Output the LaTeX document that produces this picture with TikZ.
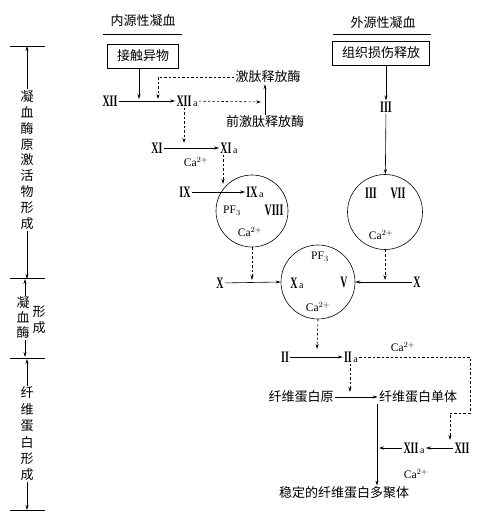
\documentclass[tikz,border=0pt]{standalone}
\usepackage{fontspec}
\usepackage{graphicx}
\setmainfont{Liberation Serif}
\newfontfamily\cjk{Noto Sans CJK SC}
\usetikzlibrary{arrows.meta}
\newcommand\rom[1]{\scalebox{0.62}[1]{#1}}
\newcommand\suba{\textmd{\fontsize{10}{10}\selectfont\,a}}
\begin{document}
\begin{tikzpicture}[x=1pt,y=-1pt,line width=0.6pt,
  cn/.style={font=\cjk\fontsize{13}{14}\selectfont, inner sep=1pt},
  boxed/.style={cn, draw, minimum height=24pt},
  rn/.style={font=\fontsize{16}{16}\selectfont\bfseries, inner sep=1pt},
  lt/.style={font=\fontsize{11.5}{11.5}\selectfont, inner sep=1pt},
  ring/.style={draw, circle, inner sep=0pt, minimum size=#1},
  arr/.style={-{Stealth[length=5pt,width=3pt]}},
  dashline/.style={arr, dash pattern=on 2.5pt off 2pt},
  stage/.style={align=center, inner sep=1pt, font=\cjk\fontsize{13}{#1}\selectfont}]
  \useasboundingbox (0,0) rectangle (491,521);
  % stages on the left
  \foreach \y in {46,278,358,510}
    \draw (10,\y) -- (45,\y);
  \coordinate (t1) at (27,46);
  \coordinate (t2) at (25,279);
  \coordinate (t3) at (25,357);
  \coordinate (t3b) at (27,359);
  \coordinate (t4) at (27,510);
  \node[stage=15.8pt] (s1) at (27,160) {凝\\血\\酶\\原\\激\\活\\物\\形\\成};
  \node[stage=15pt] (s2a) at (23,318) {凝\\血\\酶};
  \node[stage=16pt] (s2b) at (39,320) {形\\成};
  \node[stage=16.4pt] (s3) at (27,434) {纤\\维\\蛋\\白\\形\\成};
  \draw[arr] (s1.north) -- (t1);
  \draw[arr] (s1.south) -- (t2 -| t1);
  \draw[arr] (s2a.north -| t2) -- (t2);
  \draw[arr] (s2a.south -| t3) -- (t3);
  \draw[arr] (s3.north) -- (t3b);
  \draw[arr] (s3.south) -- (t4);
  % intrinsic pathway
  \node[cn] (intr) at (143,21) {内源性凝血};
  \draw (103,34) -- (182,34);
  \node[boxed, minimum width=71pt] (contact) at (143,56) {接触异物};
  \node[rn] (xii) at (110,101) {\rom{XII}};
  \node[rn] (xiia) at (187,101) {\rom{XII}\suba};
  \node[cn] (kal) at (268,77) {激肽释放酶};
  \node[cn] (prekal) at (265,122) {前激肽释放酶};
  \coordinate (cin) at (139,99);
  \coordinate (kin) at (158,99);
  \coordinate (kx) at (261,102);
  \draw[arr] (contact.south -| cin) -- (cin);
  \draw[dashline] (kal.west) -| (kin);
  \draw[arr] (xii) -- (xiia);
  \draw[dashline] (xiia) -- (kx);
  \draw[arr] (prekal.north) -- (prekal.north |- kal.south);
  \node[rn] (xi) at (157,148) {\rom{XI}};
  \node[rn] (xia) at (229,148) {\rom{XI}\suba};
  \coordinate (xiib) at (184,143);
  \draw[dashline] (xiia.south -| xiib) -- (xiib);
  \draw[arr] (xi) -- (xia);
  \node[lt] (ca1) at (196,162) {Ca$^{2+}$};
  \node[ring=72pt] (c1) at (252,211) {};
  \node[rn] (ix) at (185,192) {\rom{IX}};
  \node[rn] (ixa) at (255,192) {\rom{IX}\suba};
  \coordinate (xiab) at (223,184);
  \draw[dashline] (xia.south -| xiab) -- (xiab);
  \draw[arr] (ix) -- (ixa);
  \node[lt] (pf1) at (232,211) {PF$_3$};
  \node[rn] (viii) at (274,210) {\rom{VIII}};
  \node[lt] (ca2) at (250,232) {Ca$^{2+}$};
  % prothrombin activator
  \node[ring=74pt] (c2) at (318,282) {};
  \node[lt] (pf2) at (320,257) {PF$_3$};
  \node[rn] (xa) at (297,283) {\rom{X}\suba};
  \node[rn] (v) at (344,282) {\rom{V}};
  \node[lt] (ca3) at (318,307) {Ca$^{2+}$};
  \node[rn] (x1) at (220,283) {\rom{X}};
  \coordinate (c1b) at (252,280);
  \draw[dashline] (c1.south) -- (c1b);
  \draw[arr] (x1) -- (c2.west);
  % extrinsic pathway
  \node[cn] (extr) at (383,23) {外源性凝血};
  \draw (333,34) -- (431,34);
  \node[boxed, minimum width=97pt] (tissue) at (381,53) {组织损伤释放};
  \node[rn] (iii) at (386,107) {\rom{III}};
  \node[ring=75pt] (c3) at (385,212) {};
  \draw[arr] (tissue.south -| iii) -- (iii);
  \draw[arr] (iii) -- (c3);
  \node[rn] (iii2) at (371,193) {\rom{III}};
  \node[rn] (vii) at (398,193) {\rom{VII}};
  \node[lt] (ca4) at (381,235) {Ca$^{2+}$};
  \node[rn] (x2) at (417,282) {\rom{X}};
  \coordinate (c3b) at (385,280);
  \draw[dashline] (c3.south) -- (c3b);
  \draw[arr] (x2) -- (c2.east);
  % thrombin and fibrin
  \node[rn] (ii) at (285,357) {\rom{II}};
  \node[rn] (iia) at (351,357) {\rom{II}\suba};
  \coordinate (c2b) at (317,349);
  \draw[dashline] (c2.south) -- (c2b);
  \draw[arr] (ii) -- (iia);
  \node[lt] (ca5) at (403,347) {Ca$^{2+}$};
  \node[cn] (fbg) at (301,397) {纤维蛋白原};
  \node[cn] (mono) at (418,397) {纤维蛋白单体};
  \node[cn] (poly) at (344,493) {稳定的纤维蛋白多聚体};
  \draw[arr] (fbg) -- (mono);
  \coordinate (iiab) at (350,392);
  \draw[dashline] (iia.south -| iiab) -- (iiab);
  \coordinate (mx) at (377,0);
  \draw[arr] (mono.south -| mx) -- (poly.north -| mx);
  \node[rn] (xii2) at (462,448) {\rom{XII}};
  \node[rn] (xiia2) at (414,448) {\rom{XII}\suba};
  \coordinate (bend) at (470,413);
  \coordinate (xiit) at (450,440);
  \draw[dashline] (iia.east) -| (bend) -| (xiit);
  \coordinate (mline) at (379,448);
  \draw[arr] (xii2) -- (xiia2);
  \draw[arr] (xiia2) -- (mline);
  \node[lt] (ca6) at (416,474) {Ca$^{2+}$};
\end{tikzpicture}
\end{document}
